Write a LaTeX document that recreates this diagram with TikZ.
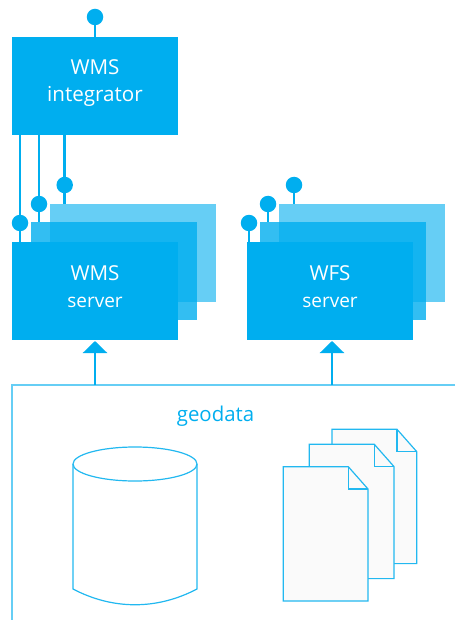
\documentclass[tikz,border=0pt]{standalone}
\usepackage{fontspec}
\setmainfont{Open Sans}
\usetikzlibrary{arrows.meta}
\definecolor{blue1}{HTML}{00AEEF}
\definecolor{blue2}{HTML}{66CEF5}
\definecolor{blue3}{HTML}{22B8F0}
\definecolor{paper}{HTML}{FAFAFA}
\tikzset{
 box/.style={draw=none,fill=blue1,minimum width=166pt,minimum height=98pt,inner sep=0pt,outer sep=0pt,text=white,align=center,font=\fontsize{20.6}{27}\selectfont,anchor=north west},
 boxtwo/.style={box,text height=33pt,text depth=0pt},
 boxmid/.style={box,fill opacity=.8},
 boxback/.style={box,fill opacity=.6},
 pin/.style={circle,fill=blue1,draw=none,minimum size=16.5pt,inner sep=0pt,outer sep=0pt},
 wire/.style={draw=blue1,line width=2.5pt},
 feed/.style={draw=blue1,line width=2.5pt,-{Triangle[length=12pt,width=24pt]},shorten >=1pt},
 frame/.style={draw=blue2,line width=1.5pt},
 thin/.style={draw=blue3,line width=1.2pt,line join=miter},
 page/.style={thin,fill=paper},
}
\begin{document}
\begin{tikzpicture}[x=1pt,y=-1pt]
\useasboundingbox (0,0) rectangle (455,620);
% stacked servers
\node[boxback] (wmsC) at (50,204) {};
\node[boxmid] (wmsB) at (31,222) {};
\node[boxtwo] (wms) at (12,242) {WMS\\{\fontsize{19}{27}\selectfont server}};
\node[boxback] (wfsC) at (279,204) {};
\node[boxmid] (wfsB) at (260,222) {};
\node[boxtwo] (wfs) at (247,242) {WFS\\{\fontsize{19}{27}\selectfont server}};
\node[boxtwo,text height=32pt] (int) at (12,37) {WMS\\integrator};
% pins
\node[pin] (p0) at (95,17) {};
\node[pin] (p1) at (20,223) {};
\node[pin] (p2) at (39,204) {};
\node[pin] (p3) at (64.7,185) {};
\node[pin] (q1) at (249,223) {};
\node[pin] (q2) at (268,204) {};
\node[pin] (q3) at (294,185) {};
\draw[wire] (p0.south) -- (p0.south |- int.north);
\draw[wire] (p1.south |- int.south) -- (p1.south);
\draw[wire] (p2.south |- int.south) -- (p2.south);
\draw[wire] (p3.south |- int.south) -- (p3.south);
\draw[wire] (p1.south) -- (p1.south |- wms.north);
\draw[wire] (p2.south) -- (p2.south |- wmsB.north);
\draw[wire] (p3.south) -- (p3.south |- wmsC.north);
\draw[wire] (q1.south) -- (q1.south |- wfs.north);
\draw[wire] (q2.south) -- (q2.south |- wfsB.north);
\draw[wire] (q3.south) -- (q3.south |- wfsC.north);
% geodata frame
\coordinate (fa) at (455,385);
\coordinate (fb) at (12,385);
\coordinate (fc) at (12,620);
\draw[frame] (fa) -- (fb) -- (fc);
\coordinate (fw) at (95,385);
\coordinate (ff) at (332,385);
\draw[feed] (fw) -- (fw |- wms.south);
\draw[feed] (ff) -- (ff |- wfs.south);
\node[text=blue1,font=\fontsize{20.4}{24}\selectfont,inner sep=0pt] (geo) at (215.5,416) {geodata};
% cylinder
\draw[thin] (73,464) -- (73,589) .. controls (113,610) and (157,610) .. (197,589) -- (197,464);
\draw[thin] (135,464) ellipse [x radius=62,y radius=17];
% pages
\foreach \x/\y in {332/429.3,309.3/444.3,283.3/466.7}{
 \draw[page] (\x,\y) -- ++(65,0) -- ++(19.7,22.3) -- ++(0,112) -- ++(-84.7,0) -- cycle;
 \draw[thin] (\x+65,\y) -- ++(0,22.3) -- ++(19.7,0);
}
\end{tikzpicture}
\end{document}
